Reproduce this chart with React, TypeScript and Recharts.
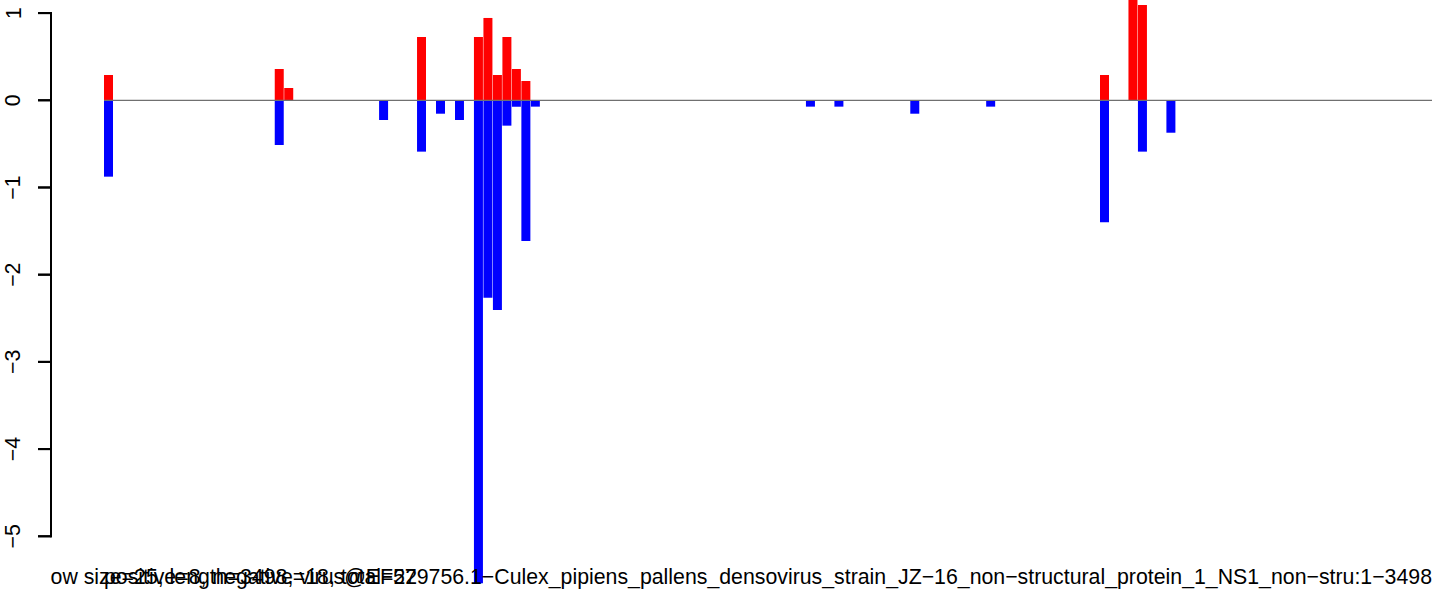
import { BarChart, Bar, XAxis, YAxis, ReferenceLine } from 'recharts';

// window bins (size 25 over 3498 nt)
const BIN_COUNT = 140;
const POS_BINS = [0, 18, 19, 33, 39, 40, 41, 42, 43, 44, 105, 108, 109];
const POS_VALUES = [0.29, 0.359, 0.141, 0.726, 0.726, 0.944, 0.29, 0.726, 0.359, 0.221, 0.29, 1.2, 1.093];
const NEG_BINS = [0, 18, 29, 33, 35, 37, 39, 40, 41, 42, 43, 44, 45, 74, 77, 85, 93, 105, 109, 112];
const NEG_VALUES = [
  -0.876, -0.513, -0.226, -0.589, -0.154, -0.226, -5.54, -2.264, -2.405, -0.291,
  -0.073, -1.614, -0.073, -0.073, -0.073, -0.154, -0.073, -1.4, -0.589, -0.372,
];
const Y_TICKS = [1, 0, -1, -2, -3, -4, -5];
const Y_DOMAIN = [-5.616, 1.15];
// left edge of the plot region, in bins
const FRAME_MIN = -5.59;

const TITLE =
  'window size=25, length=3498, virus@EF579756.1\u2212Culex_pipiens_pallens_densovirus_strain_JZ\u221216_non\u2212structural_protein_1_NS1_non\u2212stru:1\u22123498';
const SUBTITLE = 'positive=8, negative=18, total=22';

const W = 1444;
const H = 590;
const FONT = '"Liberation Sans", Arial, Helvetica, sans-serif';
const FONT_SIZE = 21.3;
const TICK_SIZE = 13;
const TICK_MARGIN = 17.5;
const LINE_W = 2;
// pixels per y unit (plot spans the full chart height)
const PX_PER_UNIT = H / (Y_DOMAIN[1] - Y_DOMAIN[0]);

const data = Array.from({ length: BIN_COUNT }, (_, i) => {
  const p = POS_BINS.indexOf(i);
  const n = NEG_BINS.indexOf(i);
  return {
    bin: i,
    pos: p >= 0 ? POS_VALUES[p] : 0,
    neg: n >= 0 ? NEG_VALUES[n] : 0,
  };
});

// tick mark, rotated label and the axis segment down to the next tick
function RotatedTick(props: any) {
  const x = Number(props.x);
  const y = Number(props.y);
  const value = Number(props.payload.value);
  const idx = Y_TICKS.indexOf(value);
  const next = idx >= 0 && idx < Y_TICKS.length - 1 ? Y_TICKS[idx + 1] : null;
  const axisX = x + TICK_MARGIN + TICK_SIZE;
  const label = String(value).replace('-', '\u2212');
  return (
    <g>
      <rect
        x={x + TICK_MARGIN}
        y={y - LINE_W / 2}
        width={TICK_SIZE + LINE_W / 2}
        height={LINE_W}
        fill="#000"
      />
      {next !== null && (
        <rect
          x={axisX - LINE_W / 2}
          y={y - LINE_W / 2}
          width={LINE_W}
          height={(value - next) * PX_PER_UNIT + LINE_W}
          fill="#000"
        />
      )}
      <text
        x={x}
        y={y}
        transform={`rotate(-90 ${x} ${y})`}
        textAnchor="middle"
        fontSize={FONT_SIZE}
        fontFamily={FONT}
        fill="#000"
      >
        {label}
      </text>
    </g>
  );
}

export default function App() {
  return (
    <div
      style={{
        position: 'absolute',
        top: 0,
        left: 0,
        width: W,
        height: H,
        background: '#fff',
      }}
    >
      <BarChart
        width={W}
        height={H}
        data={data}
        stackOffset="sign"
        barCategoryGap={0}
        margin={{ top: 0, right: 12, bottom: 0, left: 0 }}
      >
        <XAxis dataKey="bin" hide padding={{ left: 53, right: 0 }} />
        <XAxis
          xAxisId="frame"
          dataKey="bin"
          type="number"
          domain={[FRAME_MIN, BIN_COUNT]}
          allowDataOverflow
          hide
        />
        <YAxis
          width={51}
          domain={Y_DOMAIN}
          allowDataOverflow
          ticks={Y_TICKS}
          interval={0}
          axisLine={false}
          tickSize={TICK_SIZE}
          tickMargin={TICK_MARGIN}
          tickLine={{ stroke: '#000', strokeWidth: LINE_W }}
          tick={<RotatedTick />}
        />
        <Bar dataKey="pos" stackId="s" fill="#ff0000" isAnimationActive={false} />
        <Bar dataKey="neg" stackId="s" fill="#0000ff" isAnimationActive={false} />
        <ReferenceLine
          xAxisId="frame"
          ifOverflow="visible"
          segment={[
            { x: 0, y: 0 },
            { x: BIN_COUNT, y: 0 },
          ]}
          stroke="#707070"
          strokeWidth={1.3}
        />
      </BarChart>
      <svg
        width={W}
        height={H}
        style={{ position: 'absolute', top: 0, left: 0, pointerEvents: 'none' }}
      >
        <defs>
          <clipPath id="title-clip">
            <rect x={50} y={0} width={W - 50} height={H} />
          </clipPath>
        </defs>
        <g fontFamily={FONT} fontSize={FONT_SIZE} fill="#000">
          <text x={1432} y={583.5} textAnchor="end" clipPath="url(#title-clip)">
            {TITLE}
          </text>
          <text x={104} y={583.5}>
            {SUBTITLE}
          </text>
        </g>
      </svg>
    </div>
  );
}
